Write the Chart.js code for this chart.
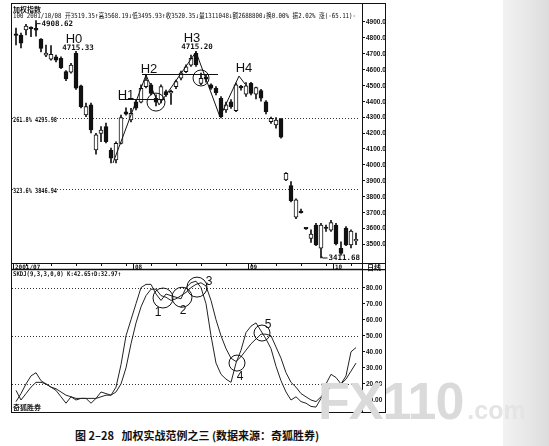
<html>
<head>
<meta http-equiv="Content-Type" content="text/html; charset=utf-8"/>
<title>加权实战范例之三</title>
<script src="https://cdn.jsdelivr.net/npm/chart.js@4.4.0/dist/chart.umd.min.js"></script>
<style>
body { margin:0; background:#fff; width:549px; height:446px; overflow:hidden; position:relative; }
#edge { position:absolute; left:503px; top:0; width:46px; height:446px; background:linear-gradient(to right,#f2f2f2,#e6e6e6 60%,#dcdcdc); }
#kx { position:absolute; left:12px; top:4px; }
#kdj { position:absolute; left:12px; top:263px; }
#frame { position:absolute; left:11px; top:3px; width:375px; height:410px; border:1.5px solid #111; box-sizing:border-box; }
#cap { position:absolute; left:75px; top:427px; font:bold 11px 'Noto Sans CJK SC'; white-space:pre; color:#111; }
#wm { position:absolute; left:318px; top:371px; font:bold 52px 'Liberation Sans'; color:#dadada; letter-spacing:-1px; }
#wm span { font-size:25px; color:#e4e4e4; letter-spacing:0; margin-left:4px; }
</style>
</head>
<body>
<div id="edge"></div>
<div id="frame"></div>
<canvas id="kx" width="373" height="259"></canvas>
<canvas id="kdj" width="373" height="149"></canvas>
<div id="cap">图 2–28   加权实战范例之三 (数据来源：奇狐胜券)</div>
<div id="wm">FX110<span>.com</span></div>

<script type="text/javascript">

// daily bars, 2001/07 .. 2001/10
var openP  = [4820,4818,4850,4862,4860,4793,4691,4665,4681,4671,
              4587,4583,4703,4498,4314,4377,4093,4198,4240,4093,
              4030,4135,4334,4282,4397,4394,4492,4503,4419,4408,
              4461,4452,4492,4545,4587,4627,4703,4513,4553,4503,
              4482,4419,4345,4397,4341,4489,4445,4513,4445,4467,
              4397,4271,4251,4286,3904,3868,3669,3700,3597,3535,
              3620,3473,3605,3588,3620,3473,3600,3494,3519.35];
var highP  = [4862,4830,4885,4870,4908.62,4795,4755,4751,4692,4680,
              4594,4640,4715.33,4502,4389,4389,4198,4240,4263,4105,
              4145,4313,4358,4356,4410,4503,4566,4513,4440,4503,
              4470,4470,4534,4590,4630,4692,4715.20,4578,4565,4510,
              4492,4430,4395,4410,4515,4500,4518,4520,4490,4475,
              4405,4300,4297,4293,3950,3893,3785,3720,3600,3590,
              3630,3630,3620,3650,3630,3513,3610,3590,3568.19];
var lowP   = [4755,4736,4818,4807,4810,4712,4681,4660,4648,4605,
              4530,4577,4475,4358,4303,4200,4066,4145,4137,4011,
              4011,4131,4313,4270,4345,4389,4485,4440,4370,4389,
              4430,4380,4480,4535,4580,4620,4620,4505,4520,4475,
              4440,4295,4330,4355,4335,4470,4430,4440,4415,4400,
              4320,4260,4230,4167,3900,3765,3660,3695,3592,3510,
              3490,3411.68,3580,3580,3495,3430,3490,3475,3495.93];
var closeP = [4816,4766,4875,4858,4848,4734,4704,4696,4660,4612,
              4541,4629,4482,4366,4366,4219,4188,4219,4145,4041,
              4135,4297,4318,4324,4356,4482,4534,4450,4394,4492,
              4440,4462,4524,4580,4618,4671,4629,4545,4540,4482,
              4455,4303,4377,4366,4503,4485,4498,4450,4487,4419,
              4334,4293,4282,4173,3946,3773,3778,3698,3595,3563,
              3494,3620,3598,3635,3500,3441,3494,3582,3520.35];

// SKDJ(9,3,3)
var kLine = [9,14,20,25,27,22,20,18,16,12,
             8,12,10,11,11,8,11,15,14,13,
             18,32,50,60,70,80,82,82,76,72,
             76,75,74,73,80,83,84,80,70,50,
             33,26,23,21,33,41,52,56,58,53,
             48,42,31,22,15,10,12,9,8,6,
             5.6,11,20,26,24,20,25,40,42.65];
var dLine = [16,10,14,18,21,21,20,18,17,15,
             13,12,11,11,11,11,11,12,13,13,
             15,20,30,45,58,68,75,79,79,75,
             74,72,73,75,77,80,82,83,81,72,
             60,50,42,36,34,37,41,45,48,51,
             51,50,43,36,27,21,18,14,12,10,
             9,12,15,18,19,20,23,28,32.97];

var monthIdx  = [0, 24, 47, 64];
var monthText = ['2001/07', '08', '09', '10'];
var priceTicks = [4900,4800,4700,4600,4500,4400,4300,4200,4100,4000,3900,3800,3700,3600,3500];
var kdjTicks = [80,70,60,50,40,30,20,10];
var fiboLevels = [4295.98, 3846.94];
var fiboText = ['261.8% 4295.98', '323.6% 3846.94'];
var kdjLevels = [80, 50, 20];

var headerText = '100 2001/10/08 开3519.35↑高3568.19↓低3495.93↑收3520.35↓量1311048↓额2688800↓换0.00% 振2.02% 涨(-65.11)-';

// notes drawn on the price pane (bar index, price)
var waveLines = [[19.4,4011,26,4566],[26,4566,28.6,4377],[28.6,4377,36,4711],
                 [36,4711,40.8,4301],[40.8,4301,44.6,4559],[44.6,4559,45.8,4509]];
var levelLines = [[20.6,29.8,4413],[25.2,40.4,4572]];
var priceRings = [[28,4395,9],[37,4547,8]];
var priceNotes = [['H0',11.6,4793,1],['4715.33',12.4,4733,0],['H1',22,4440,1],['H2',26.6,4604,1],
                  ['H3',35.2,4799,1],['4715.20',36.2,4742,0],['H4',45.6,4610,1]];
var kdjRings = [[29.4,73.5,10],[33.2,74,10],[36.2,80.3,10],[44.2,33,8],[49.2,51.7,8]];
var kdjNotes = [['1',28.4,64.2],['2',33.4,65.4],['3',38.6,83.4],['4',44.8,24.3],['5',50.4,56.7]];

var INK = '#111';
var MONO = "'DejaVu Sans Mono','Noto Sans CJK SC'";

function px(ch, i) { return ch.scales.x.getPixelForValue(i); }
function py(ch, v) { return ch.scales.y.getPixelForValue(v); }

function dotted(ch, levels)
{
    var c = ch.ctx, a = ch.chartArea;
    c.save();
    c.strokeStyle = '#333';
    c.lineWidth = 1;
    c.setLineDash([1, 2]);
    for (var k = 0; k < levels.length; ++k)
    {
        var y = Math.round(py(ch, levels[k])) + 0.5;
        c.beginPath(); c.moveTo(a.left, y); c.lineTo(a.right - 4, y); c.stroke();
    }
    c.restore();
}

function axisLabels(ch, vals, dec)
{
    var c = ch.ctx, s = ch.scales.y;
    c.save();
    c.fillStyle = INK;
    c.font = "bold 6.5px 'Liberation Sans'";
    c.textBaseline = 'middle';
    for (var k = 0; k < vals.length; ++k)
        c.fillText(vals[k].toFixed(dec), s.left + 4, py(ch, vals[k]) + 0.5);
    c.restore();
}

function ring(c, x, y, r)
{
    c.beginPath(); c.arc(x, y, r, 0, Math.PI * 2); c.stroke();
}

var pricePane = {
    id: 'pricePane',
    beforeDatasetsDraw: function(ch) { dotted(ch, fiboLevels); },
    afterDatasetsDraw: function(ch)
    {
        var c = ch.ctx;
        c.save();
        c.strokeStyle = INK;
        c.fillStyle = INK;
        c.lineWidth = 1;
        for (var k = 0; k < waveLines.length; ++k)
        {
            var w = waveLines[k];
            c.beginPath(); c.moveTo(px(ch, w[0]), py(ch, w[1])); c.lineTo(px(ch, w[2]), py(ch, w[3])); c.stroke();
        }
        for (var k = 0; k < levelLines.length; ++k)
        {
            var l = levelLines[k], y = Math.round(py(ch, l[2])) + 0.5;
            c.beginPath(); c.moveTo(px(ch, l[0]), y); c.lineTo(px(ch, l[1]), y); c.stroke();
        }
        for (var k = 0; k < priceRings.length; ++k)
            ring(c, px(ch, priceRings[k][0]), py(ch, priceRings[k][1]), priceRings[k][2]);

        c.textAlign = 'center';
        c.textBaseline = 'middle';
        for (var k = 0; k < priceNotes.length; ++k)
        {
            var n = priceNotes[k];
            c.font = n[3] ? "13px 'Liberation Sans'" : "bold 7.5px " + MONO;
            c.fillText(n[0], px(ch, n[1]), py(ch, n[2]));
        }

        // extremes with connectors
        var hi = highP.indexOf(Math.max.apply(null, highP));
        var lo = lowP.indexOf(Math.min.apply(null, lowP));
        c.font = "bold 7.5px " + MONO;
        c.textAlign = 'left';
        var x = Math.round(px(ch, hi)) + 0.5, y = py(ch, highP[hi]) + 3;
        c.beginPath(); c.moveTo(x, y + 4); c.lineTo(x, y); c.lineTo(x + 4, y); c.stroke();
        c.fillText(highP[hi].toFixed(2), x + 5, y);
        x = Math.round(px(ch, lo)) + 0.5; y = py(ch, lowP[lo]);
        c.beginPath(); c.moveTo(x, y - 2); c.lineTo(x + 1, y); c.lineTo(x + 6, y); c.stroke();
        c.fillText(lowP[lo].toFixed(2), x + 7, y);
        c.restore();
    },
    afterDraw: function(ch)
    {
        var c = ch.ctx, a = ch.chartArea;
        c.save();
        c.fillStyle = INK;
        c.textBaseline = 'middle';
        c.font = "bold 7px 'Noto Sans CJK SC'";
        c.fillText('加权指数', 1, 5);
        c.font = "7px " + MONO;
        c.fillText(headerText, 1, 12, 343);
        c.font = "bold 7px " + MONO;
        for (var k = 0; k < fiboLevels.length; ++k)
        {
            var y = py(ch, fiboLevels[k]);
            c.fillStyle = '#fff'; c.fillRect(1, y - 2, 44, 6);
            c.fillStyle = INK; c.fillText(fiboText[k], 1, y + 2, 44);
        }
        c.strokeStyle = INK;
        c.beginPath(); c.moveTo(a.right + 0.5, 0); c.lineTo(a.right + 0.5, a.top); c.stroke();
        c.restore();
        axisLabels(ch, priceTicks, 1);
    }
};

var kdjPane = {
    id: 'kdjPane',
    beforeDatasetsDraw: function(ch) { dotted(ch, kdjLevels); },
    afterDatasetsDraw: function(ch)
    {
        var c = ch.ctx;
        c.save();
        c.strokeStyle = INK;
        c.fillStyle = INK;
        c.lineWidth = 1;
        for (var k = 0; k < kdjRings.length; ++k)
            ring(c, px(ch, kdjRings[k][0]), py(ch, kdjRings[k][1]), kdjRings[k][2]);
        c.font = "12px 'Liberation Sans'";
        c.textAlign = 'center';
        c.textBaseline = 'middle';
        for (var k = 0; k < kdjNotes.length; ++k)
            c.fillText(kdjNotes[k][0], px(ch, kdjNotes[k][1]), py(ch, kdjNotes[k][2]));
        c.restore();
    },
    afterDraw: function(ch)
    {
        var c = ch.ctx, a = ch.chartArea, w = ch.width;
        c.save();
        c.strokeStyle = INK;
        c.fillStyle = INK;
        // date strip
        c.lineWidth = 1;
        c.beginPath(); c.moveTo(0, 0.5); c.lineTo(w, 0.5); c.stroke();
        c.lineWidth = 1.5;
        c.beginPath(); c.moveTo(0, a.top - 0.5); c.lineTo(w, a.top - 0.5); c.stroke();
        c.lineWidth = 1;
        for (var i = 2; i < openP.length; i += 5)
        {
            var x = Math.round(px(ch, i)) + 0.5;
            c.beginPath(); c.moveTo(x, 1); c.lineTo(x, 3); c.stroke();
        }
        c.font = "bold 6px " + MONO;
        c.textBaseline = 'middle';
        for (var k = 0; k < monthIdx.length; ++k)
        {
            var x = px(ch, monthIdx[k]) - 3;
            c.beginPath(); c.moveTo(Math.round(x) + 0.5, 1); c.lineTo(Math.round(x) + 0.5, a.top); c.stroke();
            c.fillText(monthText[k], x + 2, 4);
        }
        c.fillStyle = '#fff'; c.fillRect(a.right + 1, 1, w - a.right, a.top - 2);
        c.fillStyle = INK;
        c.font = "bold 7px 'Noto Sans CJK SC'";
        c.fillText('日线', a.right + 5, 4.5);
        c.beginPath(); c.moveTo(a.right + 0.5, 0); c.lineTo(a.right + 0.5, a.top); c.stroke();

        c.font = "bold 6.5px " + MONO;
        c.fillText('SKDJ(9,3,3,0,0) K:' + kLine[kLine.length - 1].toFixed(2) + '↑D:' + dLine[dLine.length - 1].toFixed(2) + '↑', 1, a.top + 4, 108);
        c.font = "bold 7px 'Noto Sans CJK SC'";
        c.fillText('奇狐胜券', 1, a.bottom - 5);
        c.restore();
        axisLabels(ch, kdjTicks, 2);
    }
};

function xAxis()
{
    return { type: 'linear', min: -0.8, max: 69.2, offset: false, display: false };
}

function yAxis(lo, hi, vals)
{
    return {
        type: 'linear', position: 'right', min: lo, max: hi,
        afterBuildTicks: function(s) { s.ticks = vals.map(function(v) { return { value: v }; }); },
        afterFit: function(s) { s.width = 23; },
        ticks: { display: false },
        grid: { drawOnChartArea: false, drawTicks: true, tickLength: 3, color: INK },
        border: { display: true, color: INK, width: 1 }
    };
}

var bodies = openP.map(function(o, i) { return { x: i, y: [o, closeP[i]] }; });
var wicks = lowP.map(function(l, i) { return { x: i, y: [l, highP[i]] }; });

new Chart(document.getElementById('kx'), {
    type: 'bar',
    data: {
        datasets: [{
            data: bodies,
            order: 0,
            barThickness: 4,
            minBarLength: 1.5,
            backgroundColor: openP.map(function(o, i) { return closeP[i] >= o ? '#fff' : INK; }),
            borderColor: INK,
            borderWidth: 1,
            borderSkipped: false
        },
        {
            data: wicks,
            order: 1,
            barThickness: 1,
            backgroundColor: INK,
            borderWidth: 0
        }]
    },
    options: {
        responsive: false,
        animation: false,
        events: [],
        grouped: false,
        layout: { padding: { top: 16, left: 0, right: 0, bottom: 0 } },
        plugins: { legend: { display: false }, tooltip: { enabled: false } },
        scales: { x: xAxis(), y: yAxis(3380.2, 4912.6, priceTicks) }
    },
    plugins: [pricePane]
});

function kdjSeries(vals)
{
    return {
        data: vals.map(function(v, i) { return { x: i, y: v }; }),
        borderColor: '#222',
        borderWidth: 1,
        pointRadius: 0,
        tension: 0,
        fill: false
    };
}

new Chart(document.getElementById('kdj'), {
    type: 'line',
    data: { datasets: [kdjSeries(kLine), kdjSeries(dLine)] },
    options: {
        responsive: false,
        animation: false,
        events: [],
        layout: { padding: { top: 7, left: 0, right: 0, bottom: 0 } },
        plugins: { legend: { display: false }, tooltip: { enabled: false } },
        scales: { x: xAxis(), y: yAxis(2.53, 90.95, kdjTicks) }
    },
    plugins: [kdjPane]
});

</script>
</body>
</html>
